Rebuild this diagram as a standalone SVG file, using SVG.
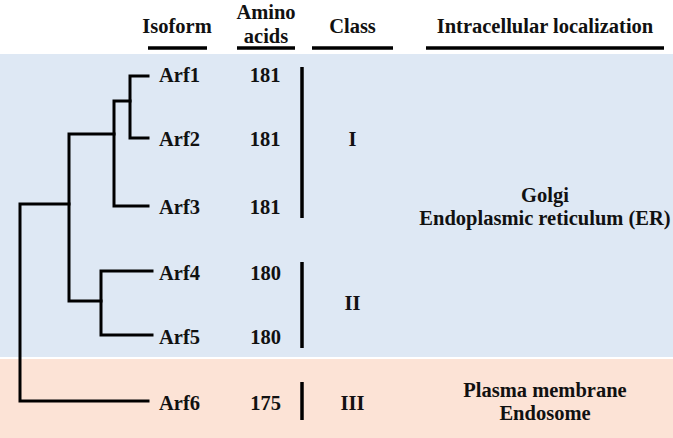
<svg xmlns="http://www.w3.org/2000/svg" width="673" height="438" viewBox="0 0 673 438">
<style>
text{font-family:"Liberation Serif","Times New Roman",serif;font-weight:bold;font-size:20.5px;fill:#111}
.m{text-anchor:middle}
.ln{stroke:#000;stroke-width:3;fill:none;stroke-linecap:square}
.hd{stroke:#000;stroke-width:3.5}
.bar{stroke:#000;stroke-width:3.5}
</style>
<rect x="0" y="0" width="673" height="438" fill="#fff"/>
<rect x="0" y="54" width="673" height="303" fill="#dee8f4"/>
<rect x="0" y="359" width="673" height="79" fill="#fce3d6"/>
<g id="headers">
<text class="m" x="177" y="33">Isoform</text>
<text class="m" x="266" y="19">Amino</text>
<text class="m" x="266" y="43">acids</text>
<text class="m" x="352.5" y="33">Class</text>
<text class="m" x="545" y="33">Intracellular localization</text>
<line class="hd" x1="148" y1="48" x2="207" y2="48"/>
<line class="hd" x1="237" y1="48" x2="295" y2="48"/>
<line class="hd" x1="312" y1="48" x2="393" y2="48"/>
<line class="hd" x1="426" y1="48" x2="664" y2="48"/>
</g>
<g id="connectors">
<path class="ln" d="M148,76 H130 V138 H148"/>
<path class="ln" d="M130,101 H114 V206 H148"/>
<path class="ln" d="M114,134 H69 V301 H101"/>
<path class="ln" d="M152,271 H101 V335 H152"/>
<path class="ln" d="M69,204 H20 V401 H148"/>
</g>
<g id="arf1"><text x="159" y="82">Arf1</text><text class="m" x="265" y="82">181</text></g>
<g id="arf2"><text x="159" y="146">Arf2</text><text class="m" x="265" y="146">181</text></g>
<g id="arf3"><text x="159" y="214">Arf3</text><text class="m" x="265" y="214">181</text></g>
<g id="arf4"><text x="159" y="280">Arf4</text><text class="m" x="265.5" y="280">180</text></g>
<g id="arf5"><text x="159" y="344">Arf5</text><text class="m" x="265.5" y="344">180</text></g>
<g id="arf6"><text x="159" y="410">Arf6</text><text class="m" x="265.5" y="410">175</text></g>
<g id="class1"><line class="bar" x1="302" y1="67" x2="302" y2="218"/><text class="m" x="352.5" y="146">I</text></g>
<g id="class2"><line class="bar" x1="302" y1="262" x2="302" y2="348"/><text class="m" x="352.5" y="310">II</text></g>
<g id="class3"><line class="bar" x1="302" y1="382" x2="302" y2="420"/><text class="m" x="352.5" y="410">III</text></g>
<g id="loc-golgi"><text class="m" x="545" y="202">Golgi</text><text class="m" x="545" y="225">Endoplasmic reticulum (ER)</text></g>
<g id="loc-pm"><text class="m" x="545" y="397">Plasma membrane</text><text class="m" x="545" y="420">Endosome</text></g>
</svg>
